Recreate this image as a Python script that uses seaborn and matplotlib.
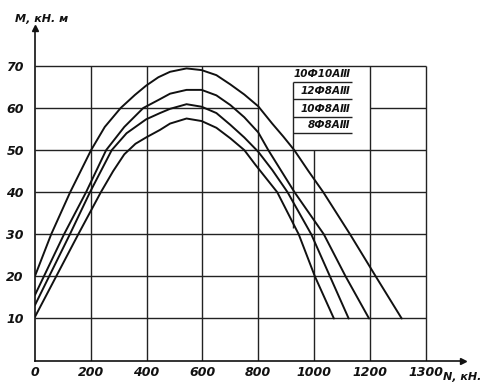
import pandas as pd
import matplotlib
matplotlib.use("Agg")
import matplotlib.pyplot as plt
import seaborn as sns

# reinforcement variants (legend order, top curve first)
series_names = ["10Ф10АⅢ", "12Ф8АⅢ", "10Ф8АⅢ", "8Ф8АⅢ"]

# N, kN  /  M, kN*m
n_a = [0, 58, 126, 201, 250, 307, 358, 398, 442, 484, 543, 597, 650, 700, 750, 800,
       850, 890, 929, 980, 1033, 1129, 1221, 1314]
m_a = [20.1, 30.0, 40.0, 50.0, 55.5, 60.0, 63.1, 65.3, 67.3, 68.6, 69.4, 69.0, 67.8, 65.6, 63.2, 60.4,
       56.3, 53.2, 50.0, 45.0, 40.0, 30.0, 20.0, 10.0]

n_b = [0, 104, 183, 255, 320, 388, 445, 484, 543, 597, 650, 700, 750, 800,
       836, 930, 1035, 1113, 1197]
m_b = [15.6, 30.0, 40.0, 50.0, 55.5, 60.0, 62.0, 63.4, 64.3, 64.3, 63.0, 60.7, 57.8, 54.2,
       50.0, 40.0, 30.0, 20.0, 10.0]

n_c = [0, 125, 197, 275, 328, 398, 448, 484, 543, 597, 650, 700, 750, 800,
       850, 905, 990, 1057, 1124]
m_c = [13.2, 30.0, 40.0, 50.0, 54.0, 57.3, 58.8, 59.8, 60.9, 60.3, 58.8, 56.0, 53.0, 49.6,
       45.3, 40.0, 30.0, 20.0, 10.0]

n_d = [0, 155, 236, 280, 320, 360, 398, 448, 484, 543, 597, 650, 700, 750, 790,
       868, 945, 1003, 1071]
m_d = [10.4, 30.0, 40.0, 45.0, 49.0, 51.5, 53.0, 54.8, 56.3, 57.5, 56.9, 55.3, 52.8, 50.0, 46.5,
       40.0, 30.0, 20.0, 10.0]

x_ticks = [0, 200, 400, 600, 800, 1000, 1200, 1400]
x_tick_labels = ["0", "200", "400", "600", "800", "1000", "1200", "1300"]
y_ticks = [10, 20, 30, 40, 50, 60, 70]
y_tick_labels = ["10", "20", "30", "40", "50", "60", "70"]

frames = []
for name, n, m in zip(series_names, [n_a, n_b, n_c, n_d], [m_a, m_b, m_c, m_d]):
    frames.append(pd.DataFrame({"N": n, "M": m, "series": name}))
df = pd.concat(frames, ignore_index=True)

sns.set_style("white")
plt.rcParams["font.family"] = ["DejaVu Sans"]

W, H = 493, 392
fig = plt.figure(figsize=(W / 100, H / 100), dpi=100)
ax = fig.add_axes([35 / W, 1 - 360.6 / H, (463 - 35) / W, (360.6 - 28) / H])

ink = "#111111"
grid_kw = dict(color="#222222", lw=1.0, zorder=1)

# grid as drawn by hand: gaps where the legend box sits
for y in y_ticks:
    if y == 60:
        ax.hlines(y, 0, 800, **grid_kw)
        ax.hlines(y, 1200, 1400, **grid_kw)
    else:
        ax.hlines(y, 0, 1400, **grid_kw)
for x in x_ticks[1:]:
    top = 50 if x == 1000 else 70
    ax.vlines(x, 0, top, **grid_kw)
# legend box left edge
ax.vlines(925, 31.5, 66.2, **grid_kw)

sns.lineplot(data=df, x="N", y="M", hue="series", sort=False, estimator=None,
             palette=[ink] * 4, lw=1.4, legend=False, ax=ax, zorder=3)

# legend: hand lettered labels with underlines
leg_y = [66.2, 62.1, 57.9, 54.0]
for name, y in zip(series_names, leg_y):
    ax.hlines(y, 925, 1135, **grid_kw)
    ax.text(1130, y + 0.7, name, ha="right", va="bottom", fontsize=7.5,
            style="italic", weight="bold", color=ink)

ax.set_xlim(0, 1533.7)
ax.set_ylim(0, 79.0)
ax.set_xticks(x_ticks)
ax.set_xticklabels(x_tick_labels)
ax.set_yticks(y_ticks)
ax.set_yticklabels(y_tick_labels)
ax.tick_params(axis="both", length=0, labelsize=9, colors=ink)
ax.tick_params(axis="x", pad=4)
ax.tick_params(axis="y", pad=8)
for lbl in ax.get_xticklabels() + ax.get_yticklabels():
    lbl.set_style("italic")
    lbl.set_weight("bold")
ax.set_xlabel("")
ax.set_ylabel("")

sns.despine(ax=ax)
for side in ["left", "bottom"]:
    ax.spines[side].set_color(ink)
    ax.spines[side].set_linewidth(1.2)

# arrow heads on the axes
ax.plot(1, 0, ">", transform=ax.transAxes, color=ink, ms=5, clip_on=False)
ax.plot(0, 1, "^", transform=ax.transAxes, color=ink, ms=5, clip_on=False)

fig.text(15 / W, 1 - 19 / H, "M, кН. м", ha="left", va="center", fontsize=8,
         style="italic", weight="bold", color=ink)
fig.text(443 / W, 1 - 377 / H, "N, кН.", ha="left", va="center", fontsize=8,
         style="italic", weight="bold", color=ink)

fig.savefig("out.png", dpi=100, facecolor="white")
